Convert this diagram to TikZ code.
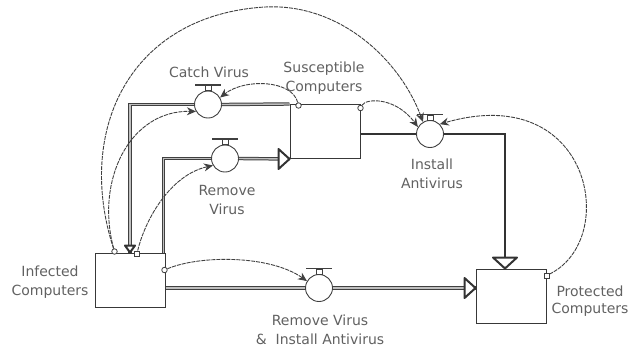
\documentclass[tikz,border=0pt]{standalone}
\usepackage{fontspec}
\setmainfont{DejaVu Sans}
\usetikzlibrary{arrows.meta,calc}
\begin{document}
\begin{tikzpicture}[x=1pt,y=-1pt,
  stock/.style={draw=black!78, line width=1pt, minimum width=70pt, minimum height=54pt, inner sep=0pt, fill=white},
  valve/.style={circle, draw=black!75, line width=0.9pt, minimum size=27pt, inner sep=0pt, fill=white},
  pipe/.style={draw=black!75, line width=1pt, double=black!25, double distance=1.4pt},
  pipesolid/.style={draw=black!80, line width=2.6pt},
  conn/.style={draw=black!75, line width=0.9pt, dash pattern=on 4pt off 1pt, -{Stealth[length=9pt,width=8pt]}},
  flowhead/.style={draw=black!80, line width=2pt, fill=white, line join=round},
  lbl/.style={font=\fontsize{14}{19}\selectfont, text=black!62, align=center, inner sep=0pt},
  origin/.style={circle, draw=black!75, line width=0.8pt, fill=white, minimum size=5.5pt, inner sep=0pt},
  originsq/.style={rectangle, draw=black!75, line width=0.8pt, fill=white, minimum size=5pt, inner sep=0pt},
  valvehandle/.pic={
    \draw[black!75, line width=0.8pt, fill=white] (-3,0) rectangle (3,-5);
    \draw[black!75, line width=1.6pt] (-13,-5.5) -- (13,-5.5);
  }
]
\useasboundingbox (0,0) rectangle (631,349);

% stocks
\node[stock] (S) at (325,131.5) {};
\node[stock] (I) at (130,280) {};
\node[stock] (P) at (511,296) {};

% valves
\node[valve] (cv) at (208,104.5) {};
\node[valve] (rv) at (225,158.5) {};
\node[valve] (ia) at (430,134) {};
\node[valve] (ri) at (319,288) {};
\pic at (cv.north) {valvehandle};
\pic at (rv.north) {valvehandle};
\pic at (ia.north) {valvehandle};
\pic at (ri.north) {valvehandle};

% pipes (flows)
\draw[pipe] (S.north west) -- (cv.east);
\draw[pipe] (cv.west) -| (I.north);
\draw[pipe] ($(I.north east)+(-2,0)$) |- (rv.west);
\draw[pipe] (rv.east) -- (S.south west);
\draw[pipesolid] (S.east |- ia.center) -- (ia.west);
\draw[pipesolid] (ia.east) -| ($(P.north)+(-6,0)$);
\draw[pipe] (I.east |- ri.center) -- (ri.west);
\draw[pipe] (ri.east) -- (P.west |- ri.center);

% flow arrowheads
\draw[flowhead] ($(I.north)+(-5,-7)$) -- (I.north) -- ($(I.north)+(5,-7)$) -- cycle;
\draw[flowhead] ($(S.south west)+(-11,-10)$) -- (S.south west) -- ($(S.south west)+(-11,10)$) -- cycle;
\draw[flowhead] ($(P.west |- ri.center)+(-11,-10)$) -- (P.west |- ri.center) -- ($(P.west |- ri.center)+(-11,10)$) -- cycle;
\draw[flowhead] ($(P.north)+(-18,-11)$) -- ($(P.north)+(-6,0)$) -- ($(P.north)+(6,-11)$) -- cycle;

% connector origins
\node[origin] (o1) at ($(S.north west)+(9,1.5)$) {};
\node[origin] (o2) at ($(S.north east)+(0,4)$) {};
\node[origin] (o3) at ($(I.north west)+(20,-1)$) {};
\node[originsq] (o4) at ($(I.north)+(7,1)$) {};
\node[origin] (o5) at ($(I.east)+(-1,-10)$) {};
\node[originsq] (o6) at ($(P.north east)+(0,7)$) {};

% connectors
\draw[conn] (o1) .. controls (292,80) and (245,78) .. (cv.30);
\draw[conn] (o2) .. controls (366,98) and (396,97) .. (ia.150);
\draw[conn] (o3) .. controls (95,180) and (130,110) .. (cv.210);
\draw[conn] (o3) .. controls (75,130) and (130,15) .. (265,7) .. controls (340,3) and (400,60) .. (ia.120);
\draw[conn] (o4) .. controls (145,220) and (170,175) .. (rv.210);
\draw[conn] (o5) .. controls (200,255) and (270,255) .. (ri.150);
\draw[conn] (o6) .. controls (620,240) and (592,80) .. (ia.45);

% labels
\node[lbl] (lcv) at (209,72) {Catch Virus};
\node[lbl] (lS) at (324,78) {Susceptible\\Computers};
\node[lbl] (lrv) at (227,200) {Remove\\Virus};
\node[lbl] (lia) at (432,174) {Install\\Antivirus};
\node[lbl] (lI) at (50,282) {Infected\\Computers};
\node[lbl, font=\fontsize{14}{17.5}\selectfont] (lP) at (590,301) {Protected\\Computers};
\node[lbl] (lri) at (320,330) {Remove Virus\\\&\ \ Install Antivirus};
\end{tikzpicture}
\end{document}
